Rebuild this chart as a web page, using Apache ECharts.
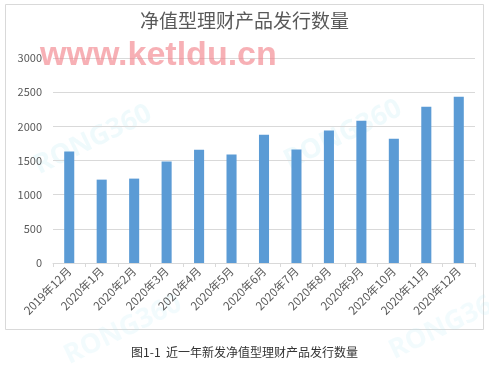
<!DOCTYPE html>
<html><head><meta charset="utf-8">
<script src="https://cdn.jsdelivr.net/npm/echarts@6/dist/echarts.min.js"></script>
<style>html,body{margin:0;padding:0;background:#fff}#c{width:489px;height:366px}</style>
</head><body><div id="c"></div>
<script>
const categories = ['2019年12月','2020年1月','2020年2月','2020年3月','2020年4月','2020年5月','2020年6月','2020年7月','2020年8月','2020年9月','2020年10月','2020年11月','2020年12月'];
const issuance = [1630, 1220, 1235, 1487, 1658, 1589, 1877, 1660, 1940, 2082, 1819, 2287, 2433];
const yTicks = [0, 500, 1000, 1500, 2000, 2500, 3000];
const titleText = '净值型理财产品发行数量';
const captionText = '图1-1  近一年新发净值型理财产品发行数量';
const watermarkText = 'www.ketldu.cn';
const faintMark = 'RONG360';

const chart = echarts.init(document.getElementById('c'), null, {renderer: 'canvas'});
const font = '"Noto Sans CJK SC", "Noto Sans", sans-serif';
const faint = (left, top, a) => ({type: 'text', silent: true, z: 0, rotation: Math.PI / 7, left: left, top: top,
  style: {text: faintMark, font: 'bold 27px "Noto Sans", sans-serif', fill: 'rgba(175,228,240,' + a + ')'}});
chart.setOption({
  animation: false,
  backgroundColor: '#fff',
  textStyle: {fontFamily: font},
  title: {
    text: titleText, left: 'center', top: 6,
    textStyle: {fontSize: 19, fontWeight: 'normal', color: '#595959', fontFamily: font}
  },
  grid: {left: 53, right: 14, top: 58, bottom: 103, containLabel: false},
  xAxis: {
    type: 'category', data: categories,
    axisLine: {lineStyle: {color: '#d9d9d9'}},
    axisTick: {show: true, alignWithLabel: false, length: 4, lineStyle: {color: '#d9d9d9'}},
    axisLabel: {interval: 0, rotate: 45, fontSize: 11.5, color: '#595959', margin: 6}
  },
  yAxis: {
    type: 'value', min: yTicks[0], max: yTicks[yTicks.length - 1], interval: yTicks[1] - yTicks[0],
    axisLine: {show: false}, axisTick: {show: false},
    axisLabel: {fontSize: 11, color: '#595959', margin: 11, formatter: v => String(v)},
    splitLine: {lineStyle: {color: '#d9d9d9'}}
  },
  series: [{
    type: 'bar', data: issuance, barWidth: '31%',
    itemStyle: {color: '#5b9bd5'}
  }],
  graphic: [
    {type: 'rect', silent: true, z: -1, shape: {x: 5.5, y: 4.5, width: 478, height: 325},
     style: {fill: 'none', stroke: '#d9d9d9', lineWidth: 1}},
    faint(30, 100, 0.2),
    faint(280, 95, 0.2),
    faint(60, 290, 0.16),
    faint(385, 285, 0.16),
    {type: 'text', silent: true, z: 100, left: 40, top: 39,
     style: {text: watermarkText, font: 'bold 34px "Liberation Sans", sans-serif', fill: 'rgba(242,128,136,0.62)'}},
    {type: 'text', silent: true, left: 'center', top: 346,
     style: {text: captionText, font: '12px "Noto Sans CJK SC", sans-serif', fill: '#333'}}
  ]
});
</script></body></html>
